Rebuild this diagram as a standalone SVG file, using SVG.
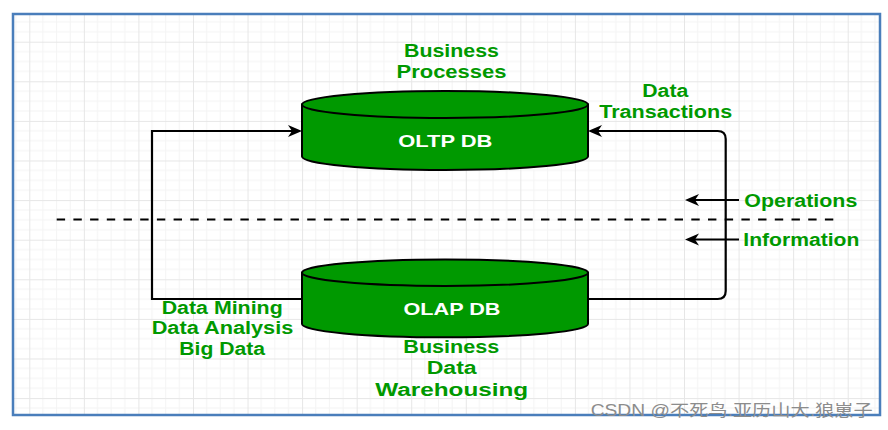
<svg xmlns="http://www.w3.org/2000/svg" width="888" height="430" viewBox="0 0 888 430">
  <style>
    .lbl { font-family: "Liberation Sans", Arial, sans-serif; font-weight: bold; font-size: 17.5px; fill: #009900; text-anchor: middle; }
    .dbt { font-family: "Liberation Sans", Arial, sans-serif; font-weight: bold; font-size: 16.5px; fill: #ffffff; text-anchor: middle; }
    .cyl { fill: #009900; stroke: #000000; stroke-width: 2; }
    .conn { fill: none; stroke: #000000; stroke-width: 2.2; }
    .wm { font-family: "Liberation Sans", "Noto Sans CJK SC", sans-serif; font-size: 16px; fill: #8c8c8c; }
  </style>
  <defs>
    <pattern id="grid" patternUnits="userSpaceOnUse" x="29.3" y="41.7" width="54.56" height="39.6">
      <path d="M13.64,0 V39.6 M27.28,0 V39.6 M40.92,0 V39.6 M0,9.9 H54.56 M0,19.8 H54.56 M0,29.7 H54.56" stroke="#f4f4f4" stroke-width="1" fill="none"/>
      <path d="M0.5,0 V39.6 M0,0.5 H54.56" stroke="#e6e6e6" stroke-width="1" fill="none"/>
    </pattern>
    <marker id="arr" markerUnits="userSpaceOnUse" markerWidth="15" markerHeight="13" refX="10" refY="6.5" orient="auto">
      <path d="M0,0.5 L14,6.5 L0,12.5 L4,6.5 Z" fill="#000000"/>
    </marker>
  </defs>

  <rect x="0" y="0" width="888" height="430" fill="#ffffff"/>
  <rect x="13" y="14" width="867" height="401" fill="url(#grid)"/>
  <rect x="13" y="14" width="867" height="401" fill="none" stroke="#4a7ebb" stroke-width="2.5"/>

  <g id="divider">
    <line x1="56.7" y1="219.5" x2="836" y2="219.5" stroke="#000000" stroke-width="2" stroke-dasharray="8.4,8.3"/>
  </g>

  <g id="connectors">
    <path class="conn" d="M302,299 L152,299 L152,131 L298,131" marker-end="url(#arr)"/>
    <path class="conn" d="M588,299 L717.7,299 Q725.7,299 725.7,291 L725.7,139 Q725.7,131 717.7,131 L592,131" marker-end="url(#arr)"/>
    <path class="conn" d="M739,200 L689,200" marker-end="url(#arr)"/>
    <path class="conn" d="M739,239.5 L689,239.5" marker-end="url(#arr)"/>
  </g>

  <g id="oltp">
    <path class="cyl" d="M302,104.5 L302,156.5 A143,13.5 0 0 0 588,156.5 L588,104.5 Z"/>
    <ellipse class="cyl" cx="445" cy="104.5" rx="143" ry="13.5"/>
    <text class="dbt" x="445.3" y="146.7" textLength="94" lengthAdjust="spacingAndGlyphs">OLTP DB</text>
  </g>

  <g id="olap">
    <path class="cyl" d="M302,272.7 L302,324 A143,13.3 0 0 0 588,324 L588,272.7 Z"/>
    <ellipse class="cyl" cx="445" cy="272.7" rx="143" ry="13.3"/>
    <text class="dbt" x="452" y="315" textLength="97" lengthAdjust="spacingAndGlyphs">OLAP DB</text>
  </g>

  <g id="label-business-processes">
    <text class="lbl" x="451.5" y="56.7" textLength="95" lengthAdjust="spacingAndGlyphs">Business</text>
    <text class="lbl" x="451.5" y="78.3" textLength="110" lengthAdjust="spacingAndGlyphs">Processes</text>
  </g>

  <g id="label-data-transactions">
    <text class="lbl" x="665.3" y="96.7" textLength="46" lengthAdjust="spacingAndGlyphs">Data</text>
    <text class="lbl" x="665.7" y="117.7" textLength="133" lengthAdjust="spacingAndGlyphs">Transactions</text>
  </g>

  <g id="label-operations">
    <text class="lbl" x="800.8" y="206.7" textLength="113" lengthAdjust="spacingAndGlyphs">Operations</text>
  </g>

  <g id="label-information">
    <text class="lbl" x="801.3" y="246" textLength="116" lengthAdjust="spacingAndGlyphs">Information</text>
  </g>

  <g id="label-mining">
    <text class="lbl" x="222.2" y="314" textLength="121" lengthAdjust="spacingAndGlyphs">Data Mining</text>
    <text class="lbl" x="222.5" y="334" textLength="141.6" lengthAdjust="spacingAndGlyphs">Data Analysis</text>
    <text class="lbl" x="222.2" y="355" textLength="85.7" lengthAdjust="spacingAndGlyphs">Big Data</text>
  </g>

  <g id="label-warehousing">
    <text class="lbl" x="451.3" y="353.3" textLength="96" lengthAdjust="spacingAndGlyphs">Business</text>
    <text class="lbl" x="451.7" y="374" textLength="50" lengthAdjust="spacingAndGlyphs">Data</text>
    <text class="lbl" x="451.7" y="395.7" textLength="153" lengthAdjust="spacingAndGlyphs">Warehousing</text>
  </g>

  <text class="wm" x="590.7" y="416" textLength="282" lengthAdjust="spacingAndGlyphs">CSDN @不死鸟.亚历山大.狼崽子</text>
</svg>
